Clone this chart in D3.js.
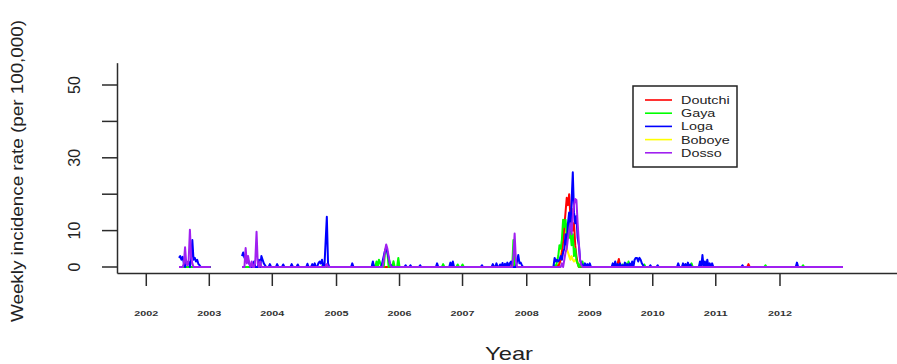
<!DOCTYPE html>
<html><head><meta charset="utf-8">
<script src="https://cdn.jsdelivr.net/npm/d3@7"></script>
<style>body{margin:0;background:#fff}svg{display:block}text{font-family:"Liberation Sans",Arial,sans-serif}</style>
</head><body>
<svg id="chart" width="897" height="364"></svg>
<script>
// ---- data (weekly incidence per 100,000; weeks counted from first observation) ----
const seriesNames = ["Doutchi","Gaya","Loga","Boboye","Dosso"];
const seriesColors = ["#ff0000","#00ff00","#0000ff","#ffff00","#a020f0"];
// drawing order (index into seriesNames); Boboye lies underneath the others
const drawOrder = [3,0,1,2,4];
// observed week ranges (weeks in between have no data)
const observedRanges = [[0,26],[52,548]];
const yearLabels = ["2002","2003","2004","2005","2006","2007","2008","2009","2010","2011","2012"];
const yearTickWeeks = [-27,25,77,130,182,234,287,339,391,443,496];
const yTicks = [0,10,20,30,40,50];
const yTickLabels = ["0","10","","30","","50"];
// non-zero weekly values as [week, value]
const doutchi = [[121,0.5],[275,1.5],[312,0.5],[314,1],[315,2],[316,4],[317,7],[318,11],[319,15],[320,19],[321,17],[322,20],[323,14],[324,16],[325,10],[326,12],[327,6],[328,3],[329,1],[362,1],[363,2.2],[364,0.5],[371,0.8],[418,0.7],[470,0.8]];
const gaya = [[119,0.8],[160,1],[163,1.5],[165,2],[166,1.2],[170,4],[171,5.6],[172,4],[174,1],[177,1.6],[181,2.5],[218,0.8],[230,0.7],[234,0.7],[276,7.4],[310,0.5],[312,1.5],[313,3],[314,6],[315,5],[316,7.5],[317,13],[318,11],[319,13],[320,9],[321,12],[322,8],[323,10],[324,6],[325,9],[326,3],[327,5],[328,2],[329,1],[331,0.8],[333,1.5],[366,0.7],[369,1],[371,1.5],[373,0.8],[384,0.7],[423,1],[437,0.8],[484,0.5],[515,0.5]];
const loga = [[0,2.5],[1,3],[2,2],[3,2.8],[4,1],[6,1.5],[7,1],[8,1.5],[10,2],[11,7.4],[12,2],[13,2.5],[14,1.5],[15,2],[16,0.8],[17,0.5],
  [52,3],[53,4],[54,2.5],[55,3.5],[56,1.5],[57,2],[58,1],[62,1.5],[66,2],[68,3],[69,2],[70,1],[71,0.5],
  [75,0.8],[81,0.8],[86,0.7],[93,0.8],[98,0.7],[106,0.9],[110,0.8],[112,1],[115,1],[116,1.5],[117,1],[118,2],[121,7],[122,13.8],[123,1],[143,1],[160,1.5],
  [168,1.5],[169,3],[170,4.5],[171,5.2],[172,4],[173,2.5],[174,1],[175,0.5],[187,0.5],[191,0.5],[199,0.5],
  [213,1],[224,1.2],[226,1.5],[250,0.5],[259,0.8],[262,1],[265,0.7],[267,1.1],[269,0.9],[271,1.2],[273,1],[274,1.5],[279,1.5],[280,3.3],[281,1],[282,1.2],[283,0.5],
  [310,2.5],[311,1.5],[312,2],[313,1.5],[314,2],[315,3],[316,2],[317,4],[318,5],[319,9],[320,6],[321,12],[322,15],[323,10],[324,18],[325,26],[326,15],[327,12],[328,14],[329,8],[330,6],[331,2],[332,1],[333,0.5],[335,1],[337,0.8],[339,1],
  [358,1],[360,1.5],[362,0.8],[364,1],[366,0.5],[368,1.2],[370,0.8],[372,1],[374,1.5],[376,2],[377,2.5],[378,2.5],[379,1.5],[380,2.5],[381,2],[382,1],[383,0.5],[389,0.5],[395,0.5],
  [412,1],[416,1],[418,0.8],[420,1.2],[422,0.7],[430,1.5],[432,3.3],[434,1.5],[436,2],[438,1],[440,1],[465,0.5],[510,1.2]];
const boboye = [[314,1],[315,2],[316,6],[317,10],[318,12],[319,8],[320,5],[321,4],[322,3],[323,2],[324,3],[325,2],[326,1.5],[327,2],[328,1.5],[329,1]];
const dosso = [[4,1],[5,5.4],[6,1],[7,0.5],[8,2],[9,10.2],[10,3],[11,1],
  [55,5.2],[56,1],[57,3],[58,1],[60,1.5],[63,2],[64,9.7],[65,1],[67,1.5],[122,0.8],
  [169,2],[170,4.5],[171,6.2],[172,5],[173,3],[174,1],
  [276,3],[277,9.2],[278,2],
  [316,1],[318,2],[319,4],[320,5],[321,8],[322,10],[323,12],[324,9],[325,14],[326,17],[327,18.7],[328,18.4],[329,12],[330,6.6],[331,2],[332,0.5]];
const seriesValues = [doutchi, gaya, loga, boboye, dosso];

// ---- drawing ----
const svg = d3.select("#chart");
const x = d3.scaleLinear().domain([0,548]).range([179,843]);
const y = d3.scaleLinear().domain([0,50]).range([267,85]);
const xAxisY = 273.5, yAxisX = 117.5, yTop = 56;
const stretch = 1.25;

function fullSeries(pairs){
  const m = new Map(pairs);
  const out = [];
  for (let w = 0; w <= 548; w++){
    const obs = observedRanges.some(r => w >= r[0] && w <= r[1]);
    out.push({w, v: obs ? (m.get(w) ?? 0) : null});
  }
  return out;
}
const line = d3.line().defined(d => d.v !== null).x(d => x(d.w)).y(d => y(d.v));
drawOrder.forEach(i => {
  svg.append("path").datum(fullSeries(seriesValues[i]))
    .attr("fill","none").attr("stroke",seriesColors[i]).attr("stroke-width",2)
    .attr("stroke-linejoin","round").attr("d",line);
});

// y axis
const axisColor = "#2b2b2b";
svg.append("line").attr("x1",yAxisX).attr("x2",yAxisX).attr("y1",y(yTop)).attr("y2",xAxisY)
  .attr("stroke",axisColor).attr("stroke-width",1.5);
yTicks.forEach((t,i) => {
  svg.append("line").attr("x1",102).attr("x2",yAxisX).attr("y1",y(t)).attr("y2",y(t))
    .attr("stroke",axisColor).attr("stroke-width",1.5);
  if (yTickLabels[i]) {
    svg.append("text").attr("transform",`translate(80,${y(t)}) rotate(-90)`)
      .attr("text-anchor","middle").attr("font-size",16).attr("fill","#222").text(yTickLabels[i]);
  }
});
// x axis
svg.append("line").attr("x1",yAxisX).attr("x2",897).attr("y1",xAxisY).attr("y2",xAxisY)
  .attr("stroke",axisColor).attr("stroke-width",1.5);
yearTickWeeks.forEach((w,i) => {
  svg.append("line").attr("x1",x(w)).attr("x2",x(w)).attr("y1",xAxisY).attr("y2",286)
    .attr("stroke",axisColor).attr("stroke-width",1.5);
  svg.append("text").attr("x",x(w)).attr("y",316).attr("text-anchor","middle")
    .attr("font-size",8).attr("font-weight","bold").attr("fill","#333")
    .attr("textLength",24).attr("lengthAdjust","spacingAndGlyphs").text(yearLabels[i]);
});
// titles
svg.append("text").attr("x",509).attr("y",360).attr("text-anchor","middle")
  .attr("font-size",19).attr("fill","#222").attr("textLength",48).attr("lengthAdjust","spacingAndGlyphs").text("Year");
svg.append("text").attr("transform","translate(23,171) rotate(-90)").attr("text-anchor","middle")
  .attr("font-size",16).attr("fill","#222").attr("textLength",302).attr("lengthAdjust","spacingAndGlyphs")
  .text("Weekly incidence rate (per 100,000)");

// legend
const lg = svg.append("g");
lg.append("rect").attr("x",633).attr("y",86).attr("width",104).attr("height",81)
  .attr("fill","#fff").attr("stroke","#222").attr("stroke-width",1.5);
seriesNames.forEach((n,i) => {
  const yy = 100 + i*13.2;
  lg.append("line").attr("x1",645).attr("x2",672).attr("y1",yy).attr("y2",yy)
    .attr("stroke",seriesColors[i]).attr("stroke-width",1.6);
  const t = lg.append("text").attr("x",681).attr("y",yy+4).attr("font-size",11.5).attr("fill","#222").text(n);
  const L = t.node().getComputedTextLength();
  t.attr("textLength",L*stretch).attr("lengthAdjust","spacingAndGlyphs");
});
</script>
</body></html>
